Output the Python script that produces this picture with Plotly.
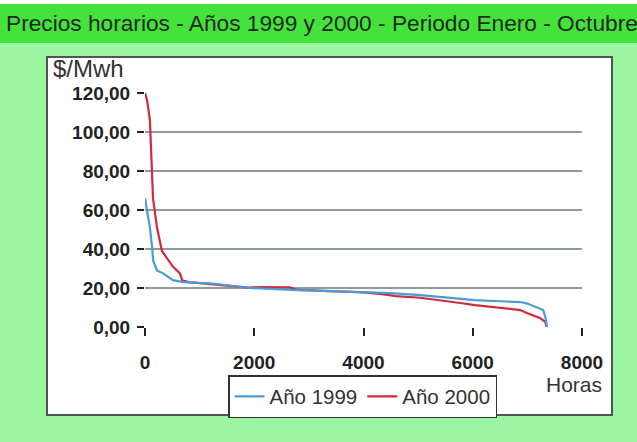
import plotly.graph_objects as go

# Duration curves of hourly prices (hours sorted by price, $/MWh)
horas_1999 = [0, 40, 90, 130, 150, 220, 330, 510, 700, 1230, 1920, 2700, 3500,
              4000, 4500, 5040, 5500, 6040, 6500, 6870, 7000, 7100, 7200, 7290,
              7330, 7360]
precio_1999 = [66, 60, 51, 41, 34, 29, 27.5, 24, 23, 22.3, 20, 19, 18.4,
               18, 17.4, 16.3, 15, 13.8, 13.2, 12.8, 12, 11, 9.7, 8.7,
               5, 0]

horas_2000 = [0, 40, 90, 128, 147, 220, 310, 510, 640, 680, 800, 1200, 1900,
              2100, 2650, 2800, 3500, 4000, 4300, 4600, 5040, 5500, 5770, 6040,
              6500, 6870, 7000, 7230, 7330, 7350]
precio_2000 = [120, 116, 106, 84, 66, 51, 39, 31, 27.5, 24, 23, 22, 20.2,
               20.5, 20.3, 19, 18.4, 17.8, 17, 15.8, 15, 13.5, 12.3, 11.2,
               10, 8.7, 7.1, 4.6, 2.6, 0]

y_ticks = [0, 20, 40, 60, 80, 100, 120]
y_tick_text = ["0,00", "20,00", "40,00", "60,00", "80,00", "100,00", "120,00"]
x_ticks = [0, 2000, 4000, 6000, 8000]

W, H = 637, 442
L, R, T, B = 145, 582, 93, 327  # plot area in pixels


def px(x):
    return (x - L) / (R - L)


def py(y):
    return (B - y) / (B - T)


FONT = "Liberation Sans, Arial, sans-serif"

fig = go.Figure()
fig.add_trace(go.Scatter(x=horas_2000, y=precio_2000, mode="lines",
                         name="Año 2000", legendrank=2,
                         line=dict(color="#d12a3c", width=2.2)))
fig.add_trace(go.Scatter(x=horas_1999, y=precio_1999, mode="lines",
                         name="Año 1999", legendrank=1,
                         line=dict(color="#4b9bd6", width=2.2)))

shapes = [
    # header band
    dict(type="rect", xref="paper", yref="paper", x0=px(0), x1=px(W),
         y0=py(0), y1=py(4), fillcolor="white", line=dict(width=0), layer="below"),
    dict(type="rect", xref="paper", yref="paper", x0=px(0), x1=px(W),
         y0=py(4), y1=py(43), fillcolor="#44e23b", line=dict(width=0), layer="below"),
    # white chart frame
    dict(type="rect", xref="paper", yref="paper", x0=px(47), x1=px(612),
         y0=py(57), y1=py(415), fillcolor="white",
         line=dict(color="#4d5750", width=2), layer="below"),
]

annotations = [
    dict(text="Precios horarios - Años 1999 y 2000 - Periodo Enero - Octubre",
         xref="paper", yref="paper", x=px(4), y=py(23), xanchor="left",
         yanchor="middle", showarrow=False,
         font=dict(family=FONT, size=22.7, color="#1f2a1f")),
    dict(text="$/Mwh", xref="paper", yref="paper", x=px(51), y=py(69),
         xanchor="left", yanchor="middle", showarrow=False,
         font=dict(family=FONT, size=24, color="#333333")),
    dict(text="Horas", xref="paper", yref="paper", x=px(544), y=py(384),
         xanchor="left", yanchor="middle", showarrow=False,
         font=dict(family=FONT, size=21, color="#333333")),
]

fig.update_layout(
    width=W, height=H,
    margin=dict(l=L, r=W - R, t=T, b=H - B, pad=0),
    paper_bgcolor="#9cf5a0",
    plot_bgcolor="#c6d1ce",
    shapes=shapes,
    annotations=annotations,
    showlegend=True,
    legend=dict(orientation="h", x=px(228), y=py(375), xanchor="left",
                yanchor="top", bgcolor="white", bordercolor="#333333",
                borderwidth=1.5, font=dict(family=FONT, size=20.5, color="#333333"),
                itemwidth=30, tracegroupgap=0),
    xaxis=dict(range=[0, 8000], tickvals=x_ticks, showgrid=False, zeroline=False,
               showline=False, ticks="outside", ticklen=8, tickwidth=2,
               tickcolor="#222222", ticklabelstandoff=10,
               tickfont=dict(family=FONT, size=19, color="#222222", weight="bold")),
    yaxis=dict(range=[0, 120], tickvals=y_ticks, ticktext=y_tick_text,
               showgrid=True, gridcolor="#8e9d98", gridwidth=1.5, zeroline=False,
               showline=False, ticks="outside", ticklen=7, tickwidth=2,
               tickcolor="#222222", ticklabelstandoff=3,
               tickfont=dict(family=FONT, size=19, color="#222222", weight="bold")),
)

fig.write_html("out.html")
